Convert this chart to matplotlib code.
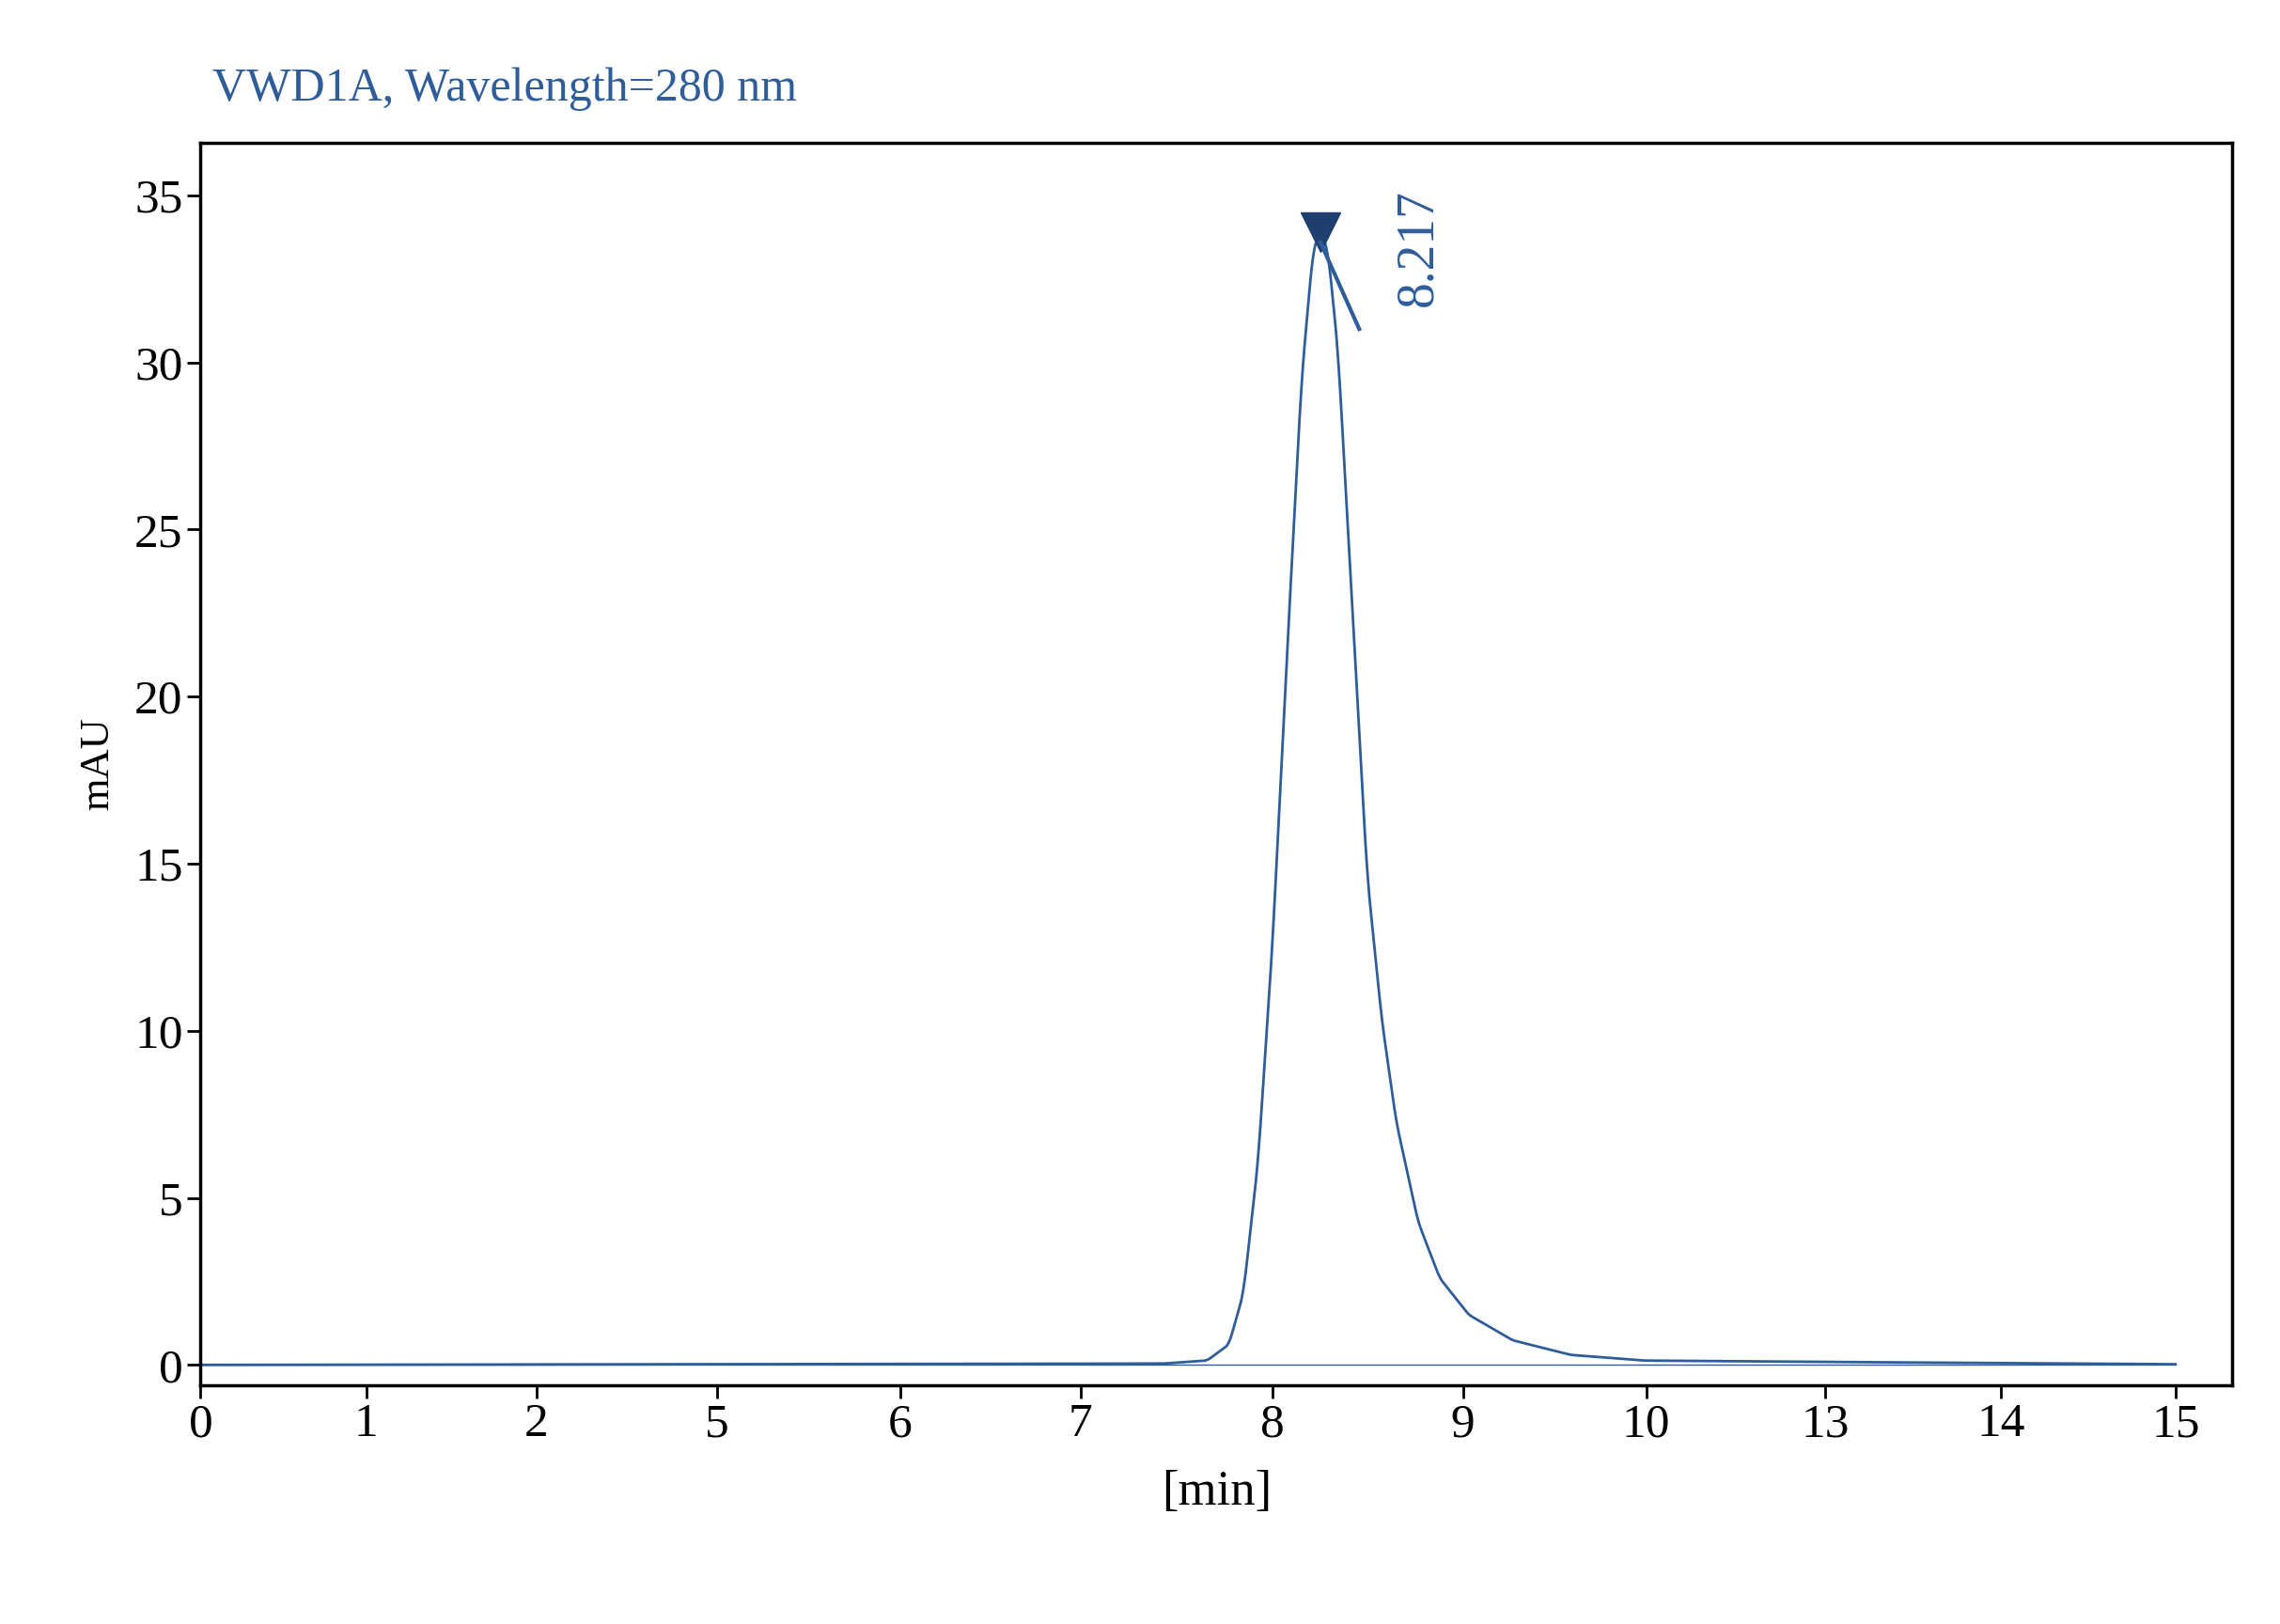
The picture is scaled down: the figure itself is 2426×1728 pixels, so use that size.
import numpy as np
import matplotlib.pyplot as plt

# x axis is drawn on a position scale; tick labels are the printed times
tick_pos = [0, 1.259, 2.551, 3.921, 5.313, 6.682, 8.14, 9.587, 10.979, 12.337, 13.674, 15]
tick_labels = ['0', '1', '2', '5', '6', '7', '8', '9', '10', '13', '14', '15']

pos = [0, 4.0, 7.312, 7.644, 7.810, 7.920, 8.031, 8.141, 8.252, 8.362, 8.450, 8.505,
       8.561, 8.638, 8.749, 8.859, 8.969, 9.080, 9.246, 9.411, 9.632, 9.963,
       10.405, 10.958, 12.283, 15]
mau = [0.0, 0.02, 0.04, 0.13, 0.61, 2.13, 6.04, 12.57, 21.3, 29.5, 33.4, 33.9,
       33.4, 30.4, 22.6, 14.7, 10.4, 7.3, 4.3, 2.6, 1.5, 0.74,
       0.30, 0.13, 0.09, 0.02]

peak_pos = 8.505
peak_val = 33.6
peak_label = '8.217'

blue = '#2f5d9a'
plt.rcParams['font.family'] = ['Liberation Serif', 'DejaVu Serif']

fig = plt.figure(figsize=(24.26, 17.28), dpi=100)
ax = fig.add_axes([0.088, 0.147, 0.891, 0.765])

# dense curve through the read points, lightly smoothed to take off the corners
xs = np.linspace(0, 15, 6001)
ys = np.interp(xs, pos, mau)
k = 21
ys = np.convolve(np.pad(ys, k // 2, mode='edge'), np.ones(k) / k, mode='valid')
ax.plot(xs, ys, color=blue, lw=2)
ax.plot([0, 15], [0, 0], color=blue, lw=1)

ax.plot([peak_pos], [peak_val + 0.3], marker='v', markersize=30, color='#1f3f6e',
        markeredgecolor='#1f3f6e')
ax.plot([peak_pos, 8.80], [peak_val, 31.0], color=blue, lw=3)
ax.text(9.25, 35.2, peak_label, rotation=90, color=blue, fontsize=40,
        ha='center', va='top')

ax.set_xlim(0, 15.43)
ax.set_ylim(-0.61, 36.57)
ax.set_xticks(tick_pos)
ax.set_xticklabels(tick_labels)
ax.set_yticks(range(0, 36, 5))
ax.tick_params(labelsize=37, length=10, width=2)
for s in ax.spines.values():
    s.set_linewidth(2.5)
ax.set_xlabel('[min]', fontsize=38, labelpad=18)
ax.set_ylabel('mAU', fontsize=32, labelpad=14)
fig.text(0.093, 0.945, 'VWD1A, Wavelength=280 nm', color=blue, fontsize=36,
         ha='left', va='center')

fig.savefig('out.png', dpi=100)
